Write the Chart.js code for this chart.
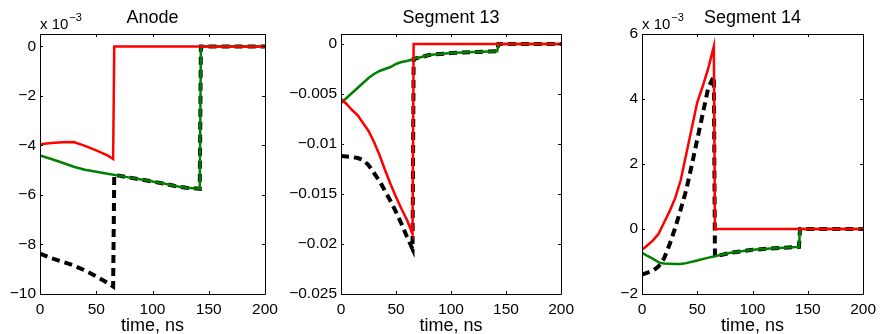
<!DOCTYPE html>
<html>
<head>
<meta charset="utf-8">
<script src="https://cdn.jsdelivr.net/npm/chart.js@4.4.0/dist/chart.umd.min.js"></script>
<style>
  body { margin: 0; background: #fff; width: 882px; height: 334px; position: relative; overflow: hidden; }
  canvas { position: absolute; top: 0; }
</style>
</head>
<body>
<canvas id="anode" width="290" height="334" style="left:0px"></canvas>
<canvas id="seg13" width="300" height="334" style="left:280px"></canvas>
<canvas id="seg14" width="292" height="334" style="left:590px"></canvas>
<script>
/* DATA */
const xTicks = [0, 50, 100, 150, 200];
const xLabel = "time, ns";

// Anode (x 10^-3)
const anodeRedT   = [0, 10, 20, 30, 40, 50, 60, 65, 66, 200];
const anodeRed    = [-3.95, -3.9, -3.87, -3.86, -4.02, -4.2, -4.4, -4.55, 0, 0];
const anodeGreenT = [0, 10, 20, 30, 40, 50, 60, 70, 80, 90, 100, 110, 120, 130, 142, 143, 200];
const anodeGreen  = [-4.4, -4.55, -4.7, -4.86, -4.98, -5.06, -5.14, -5.22, -5.3, -5.38, -5.46, -5.54, -5.64, -5.71, -5.75, 0, 0];
const anodeBlackT = [0, 10, 20, 30, 40, 50, 60, 65, 66, 70, 80, 90, 100, 110, 120, 130, 142, 143, 200];
const anodeBlack  = [-8.37, -8.55, -8.7, -8.85, -9.05, -9.29, -9.55, -9.7, -5.19, -5.22, -5.3, -5.38, -5.46, -5.54, -5.64, -5.71, -5.75, 0, 0];
const anodeYTicks  = [-10, -8, -6, -4, -2, 0];
const anodeYLabels = ["\u221210", "\u22128", "\u22126", "\u22124", "\u22122", "0"];

// Segment 13
const seg13RedT   = [0, 5, 10, 15, 20, 25, 30, 35, 40, 45, 50, 55, 60, 65, 66, 200];
const seg13Red    = [-0.0055, -0.006, -0.0066, -0.0071, -0.0079, -0.0087, -0.0098, -0.0111, -0.0126, -0.014, -0.0153, -0.0165, -0.0176, -0.019, 0, 0];
const seg13GreenT = [0, 5, 10, 15, 20, 25, 30, 35, 40, 45, 50, 55, 60, 66, 80, 100, 120, 142, 143, 200];
const seg13Green  = [-0.0059, -0.0054, -0.0049, -0.0044, -0.0039, -0.0034, -0.003, -0.0027, -0.0025, -0.0023, -0.002, -0.0018, -0.0017, -0.0015, -0.0011, -0.0009, -0.0008, -0.00072, 0, 0];
const seg13BlackT = [0, 10, 15, 20, 25, 30, 35, 40, 45, 50, 55, 60, 65, 66, 80, 100, 120, 142, 143, 200];
const seg13Black  = [-0.0112, -0.0113, -0.0114, -0.0116, -0.0121, -0.0129, -0.0137, -0.0147, -0.0157, -0.0168, -0.018, -0.0193, -0.0205, -0.0015, -0.0011, -0.0009, -0.0008, -0.00072, 0, 0];
const seg13YTicks  = [-0.025, -0.02, -0.015, -0.01, -0.005, 0];
const seg13YLabels = ["\u22120.025", "\u22120.02", "\u22120.015", "\u22120.01", "\u22120.005", "0"];

// Segment 14 (x 10^-3)
const seg14RedT   = [0, 5, 10, 15, 20, 25, 30, 35, 40, 45, 50, 55, 60, 65, 66, 200];
const seg14Red    = [-0.64, -0.5, -0.35, -0.15, 0.2, 0.55, 0.95, 1.5, 2.3, 3.1, 3.9, 4.4, 4.95, 5.62, 0, 0];
const seg14GreenT = [0, 5, 10, 16, 20, 30, 35, 40, 50, 60, 66, 80, 100, 120, 142, 143, 200];
const seg14Green  = [-0.73, -0.83, -0.92, -1.04, -1.06, -1.08, -1.08, -1.05, -0.97, -0.88, -0.84, -0.73, -0.64, -0.59, -0.55, 0, 0];
const seg14BlackT = [0, 5, 10, 15, 20, 25, 30, 35, 40, 45, 50, 55, 60, 65, 66, 80, 100, 120, 142, 143, 200];
const seg14Black  = [-1.4, -1.34, -1.28, -1.15, -0.9, -0.47, 0.03, 0.6, 1.2, 1.96, 2.76, 3.55, 4.35, 4.7, -0.85, -0.73, -0.64, -0.59, -0.55, 0, 0];
const seg14YTicks  = [-2, 0, 2, 4, 6];
const seg14YLabels = ["\u22122", "0", "2", "4", "6"];

const FONT = "'Liberation Sans', Arial, Helvetica, sans-serif";

/* BOX, INWARD TICKS, TITLE, EXPONENT, X LABEL */
const matlabAxes = {
  id: "matlabAxes",
  afterDraw(chart, args, opts) {
    const { ctx, chartArea: a, scales } = chart;
    const len = 3;
    ctx.save();
    ctx.strokeStyle = "#000";
    ctx.lineWidth = 1;
    ctx.beginPath();
    ctx.rect(Math.round(a.left) + 0.5, Math.round(a.top) + 0.5, Math.round(a.width), Math.round(a.height));
    scales.x.ticks.forEach(t => {
      const px = Math.round(scales.x.getPixelForValue(t.value)) + 0.5;
      ctx.moveTo(px, a.bottom); ctx.lineTo(px, a.bottom - len);
      ctx.moveTo(px, a.top); ctx.lineTo(px, a.top + len);
    });
    scales.y.ticks.forEach(t => {
      const py = Math.round(scales.y.getPixelForValue(t.value)) + 0.5;
      ctx.moveTo(a.left, py); ctx.lineTo(a.left + len, py);
      ctx.moveTo(a.right, py); ctx.lineTo(a.right - len, py);
    });
    ctx.stroke();

    ctx.fillStyle = "#000";
    ctx.textBaseline = "alphabetic";
    ctx.textAlign = "center";
    ctx.font = "18px " + FONT;
    ctx.fillText(opts.title, (a.left + a.right) / 2, 23);
    ctx.fillText(xLabel, (a.left + a.right) / 2, 331);

    if (opts.exponent) {
      ctx.textAlign = "left";
      ctx.font = "15px " + FONT;
      const base = "x 10";
      ctx.fillText(base, a.left, 29);
      const w = ctx.measureText(base).width;
      ctx.font = "11px " + FONT;
      ctx.fillText("\u22123", a.left + w + 1, 21);
    }
    ctx.restore();
  }
};

function makeData(t, v) {
  return t.map((x, i) => ({ x: x, y: v[i] }));
}

function renderPanel(id, cfg) {
  new Chart(document.getElementById(id), {
    type: "line",
    data: {
      datasets: [
        { data: makeData(cfg.redT, cfg.red), borderColor: "#ff0000", borderWidth: 2.5 },
        { data: makeData(cfg.greenT, cfg.green), borderColor: "#008000", borderWidth: 2.5 },
        { data: makeData(cfg.blackT, cfg.black), borderColor: "#000000", borderWidth: 4, borderDash: [8, 5] }
      ]
    },
    options: {
      responsive: false,
      animation: false,
      devicePixelRatio: 1,
      elements: { point: { radius: 0 }, line: { tension: 0, borderCapStyle: "butt" } },
      layout: { padding: { top: 34, right: cfg.padRight, left: 0, bottom: 0 } },
      plugins: {
        legend: { display: false },
        tooltip: { enabled: false },
        matlabAxes: { title: cfg.title, exponent: cfg.exponent }
      },
      scales: {
        x: {
          type: "linear",
          min: 0, max: 200,
          grid: { display: false, drawTicks: false },
          border: { display: false },
          afterBuildTicks: s => { s.ticks = xTicks.map(v => ({ value: v })); },
          afterFit: s => { s.height = 40; },
          ticks: { color: "#000", font: { family: FONT, size: 15.5 }, padding: 6, maxRotation: 0 }
        },
        y: {
          type: "linear",
          min: cfg.yMin, max: cfg.yMax,
          grid: { display: false, drawTicks: false },
          border: { display: false },
          afterBuildTicks: s => { s.ticks = cfg.yTicks.map(v => ({ value: v })); },
          afterFit: s => { s.width = cfg.axisWidth; },
          ticks: {
            color: "#000", font: { family: FONT, size: 15.5 }, padding: 4,
            callback: (value, index) => cfg.yLabels[index]
          }
        }
      }
    },
    plugins: [matlabAxes]
  });
}

/* INIT */
renderPanel("anode", {
  title: "Anode", exponent: true, axisWidth: 40, padRight: 25,
  yMin: -10, yMax: 0.5, yTicks: anodeYTicks, yLabels: anodeYLabels,
  redT: anodeRedT, red: anodeRed, greenT: anodeGreenT, green: anodeGreen, blackT: anodeBlackT, black: anodeBlack
});
renderPanel("seg13", {
  title: "Segment 13", exponent: false, axisWidth: 61, padRight: 14,
  yMin: -0.025, yMax: 0.001, yTicks: seg13YTicks, yLabels: seg13YLabels,
  redT: seg13RedT, red: seg13Red, greenT: seg13GreenT, green: seg13Green, blackT: seg13BlackT, black: seg13Black
});
renderPanel("seg14", {
  title: "Segment 14", exponent: true, axisWidth: 52, padRight: 15,
  yMin: -2, yMax: 6, yTicks: seg14YTicks, yLabels: seg14YLabels,
  redT: seg14RedT, red: seg14Red, greenT: seg14GreenT, green: seg14Green, blackT: seg14BlackT, black: seg14Black
});
</script>
</body>
</html>
